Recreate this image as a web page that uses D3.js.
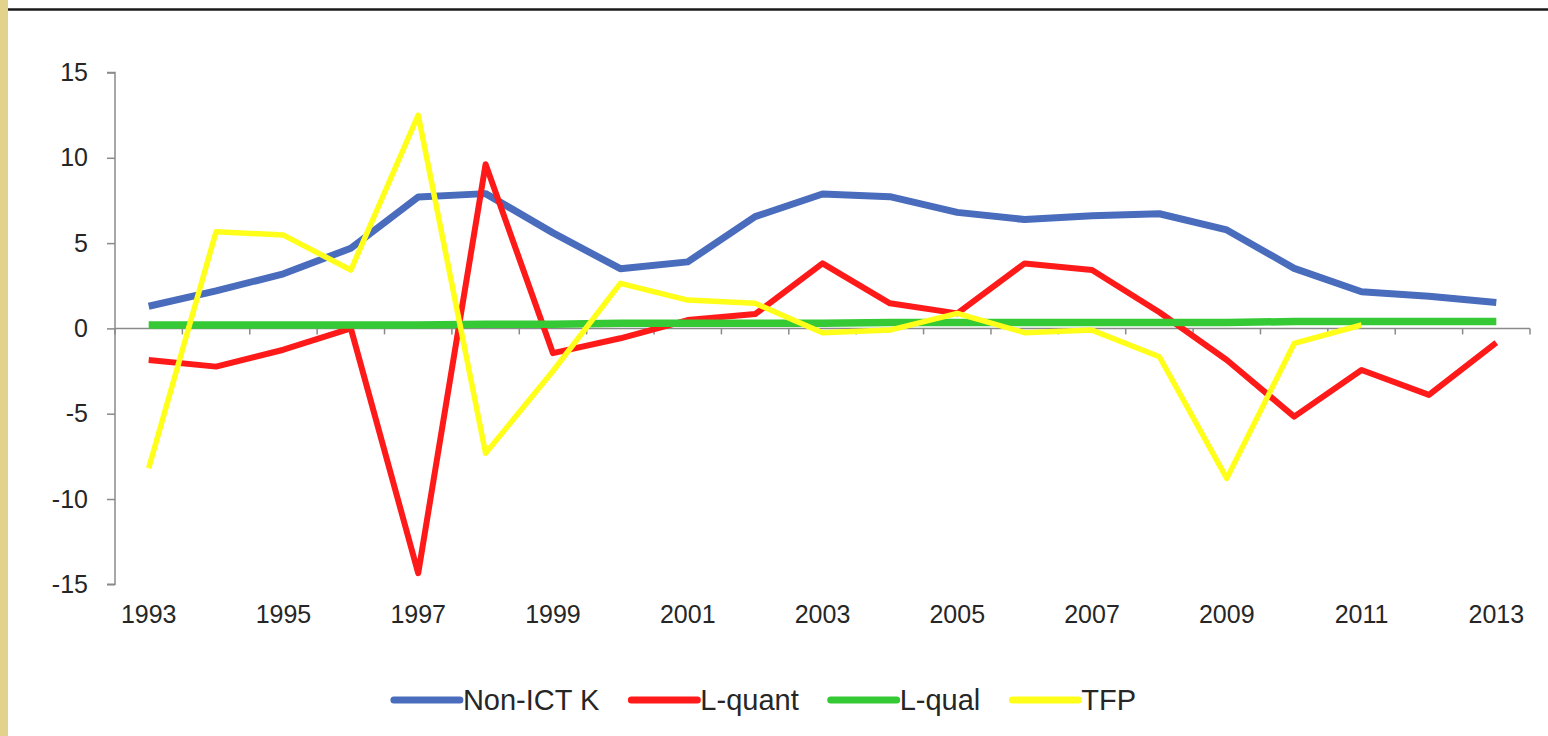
<!DOCTYPE html>
<html>
<head>
<meta charset="utf-8">
<script src="https://cdn.jsdelivr.net/npm/d3@7/dist/d3.min.js"></script>
<style>
  html, body { margin: 0; padding: 0; background: #ffffff; }
  svg { display: block; }
  text { font-family: "Liberation Sans", Arial, sans-serif; }
</style>
</head>
<body>
<svg id="chart" width="1548" height="736"></svg>
<script>
// ---- data ----
const years = [1993,1994,1995,1996,1997,1998,1999,2000,2001,2002,2003,2004,2005,2006,2007,2008,2009,2010,2011,2012,2013];
const nonIctK = [1.3,2.2,3.2,4.7,7.7,7.9,5.6,3.5,3.9,6.55,7.88,7.72,6.8,6.38,6.6,6.72,5.77,3.52,2.15,1.88,1.52];
const lQuant  = [-1.85,-2.24,-1.25,0.0,-14.35,9.62,-1.45,-0.58,0.49,0.84,3.81,1.47,0.88,3.81,3.42,0.95,-1.85,-5.17,-2.44,-3.9,-0.84];
const lQual   = [0.2,0.2,0.2,0.2,0.2,0.25,0.25,0.3,0.3,0.3,0.3,0.35,0.35,0.35,0.35,0.35,0.35,0.4,0.4,0.4,0.4];
const tfp     = [-8.2,5.67,5.47,3.42,12.5,-7.32,-2.5,2.64,1.66,1.47,-0.25,-0.1,0.88,-0.25,-0.1,-1.66,-8.79,-0.88,0.2,null,null];
const yTicks = [-15,-10,-5,0,5,10,15];
const xLabelYears = [1993,1995,1997,1999,2001,2003,2005,2007,2009,2011,2013];
const seriesNames = ["Non-ICT K","L-quant","L-qual","TFP"];
const seriesColors = ["#4a6cbd","#ff1a1a","#36c936","#ffff1a"];
const seriesWidths = [7,6,7.5,5.5];

// ---- setup ----
const svg = d3.select("#chart");
const W = 1548, H = 736;

// decorative frame: left tan strip and top rule
svg.append("rect").attr("x",0).attr("y",0).attr("width",8).attr("height",H).attr("fill","#e2d28c");
svg.append("line").attr("x1",8).attr("x2",W).attr("y1",9.5).attr("y2",9.5)
  .attr("stroke","#1a1a1a").attr("stroke-width",2.5);

const x = d3.scaleBand().domain(years).range([115,1530]).paddingInner(0).paddingOuter(0);
const xc = d => x(d) + x.bandwidth()/2;
const y = d3.scaleLinear().domain([-15,15]).range([584.3,72.5]);

const axisColor = "#8a8a8a";
const textColor = "#262626";

// y axis
const yAxisG = svg.append("g").attr("transform","translate(115,0)")
  .call(d3.axisLeft(y).tickValues(yTicks).tickSize(8).tickPadding(19).tickFormat(d3.format("d")));
yAxisG.select(".domain").attr("stroke",axisColor).attr("stroke-width",1.5).attr("d",`M-8,${y(15)}H0V${y(-15)}H-8`);
yAxisG.selectAll(".tick line").attr("stroke",axisColor).attr("stroke-width",1.5);
yAxisG.selectAll(".tick text").attr("font-size",25).attr("fill",textColor)
  .attr("font-family","'Liberation Sans', Arial, sans-serif").text(d => d < 0 ? "-" + Math.abs(d) : d);

// x axis line at zero with boundary ticks
const bounds = years.map(d => x(d)).concat([x(years[years.length-1]) + x.bandwidth()]);
const xAxisG = svg.append("g");
xAxisG.append("line").attr("x1",115).attr("x2",bounds[bounds.length-1]).attr("y1",y(0)).attr("y2",y(0))
  .attr("stroke",axisColor).attr("stroke-width",1.5);
xAxisG.selectAll("line.tk").data(bounds).enter().append("line").attr("class","tk")
  .attr("x1",d=>d).attr("x2",d=>d).attr("y1",y(0)).attr("y2",y(0)+6)
  .attr("stroke",axisColor).attr("stroke-width",1.5);

// x labels at bottom
svg.append("g").selectAll("text").data(xLabelYears).enter().append("text")
  .attr("x", d => xc(d)).attr("y", 614).attr("text-anchor","middle").attr("dominant-baseline","central")
  .attr("font-size",25).attr("fill",textColor).text(d => d);

// series lines
const allSeries = [nonIctK, lQuant, lQual, tfp];
const line = d3.line().defined(d => d.v !== null).x(d => xc(d.year)).y(d => y(d.v));
allSeries.forEach((vals, i) => {
  const pts = years.map((yr, j) => ({year: yr, v: vals[j]}));
  svg.append("path").datum(pts).attr("d", line)
    .attr("fill","none").attr("stroke",seriesColors[i]).attr("stroke-width",seriesWidths[i])
    .attr("stroke-linejoin","round").attr("stroke-linecap","butt");
});

// legend
const legendY = 700, lineLen = 66, lineGap = 3, itemGap = 32, legendFont = 29;
const legendG = svg.append("g");
const items = seriesNames.map((name, i) => {
  const g = legendG.append("g");
  g.append("line").attr("x1",0).attr("x2",lineLen).attr("y1",legendY).attr("y2",legendY)
    .attr("stroke",seriesColors[i]).attr("stroke-width",7).attr("stroke-linecap","round");
  const t = g.append("text").attr("x",lineLen+lineGap).attr("y",legendY).attr("dominant-baseline","central")
    .attr("font-size",legendFont).attr("fill",textColor).text(name);
  return {g, w: lineLen + lineGap + t.node().getComputedTextLength()};
});
const total = d3.sum(items, d => d.w) + itemGap*(items.length-1);
let cx = 765 - total/2;
items.forEach(it => { it.g.attr("transform",`translate(${cx},0)`); cx += it.w + itemGap; });
</script>
</body>
</html>
